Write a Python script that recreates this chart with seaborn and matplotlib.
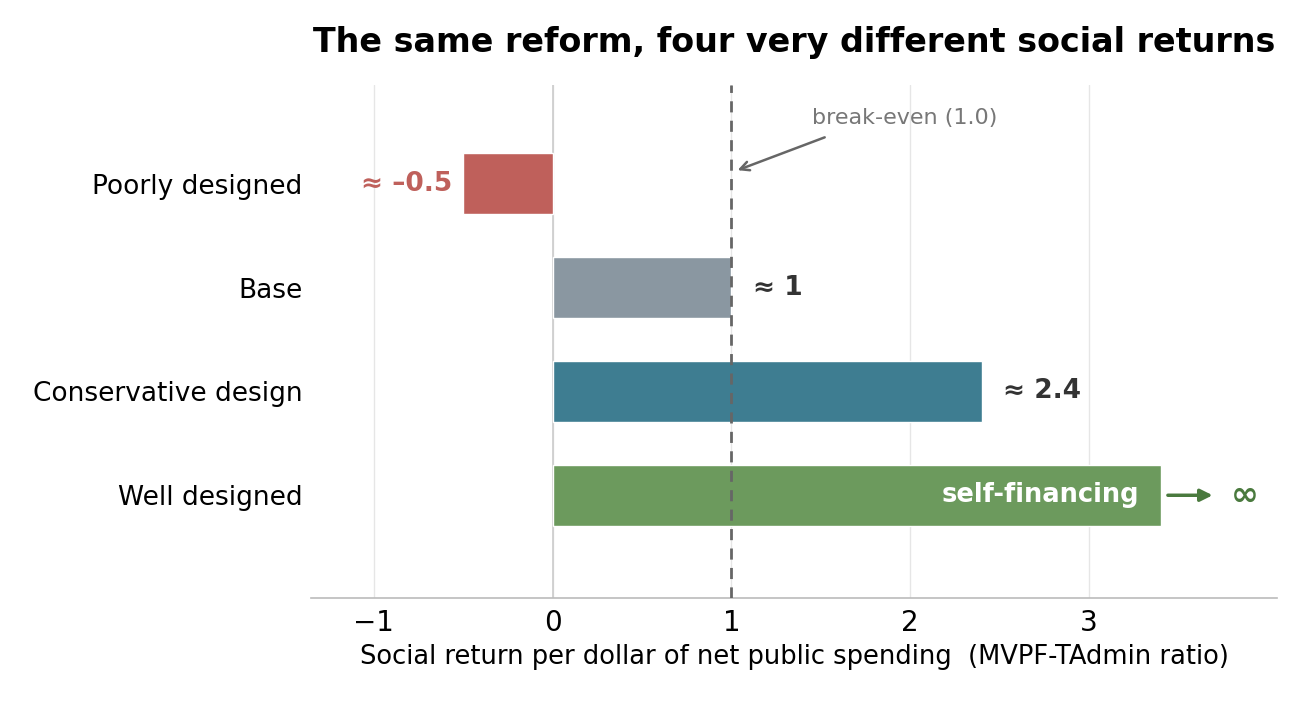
import matplotlib
matplotlib.use("Agg")
import matplotlib.pyplot as plt
import seaborn as sns
import pandas as pd

categories = ["Poorly designed", "Base", "Conservative design", "Well designed"]
values = [-0.5, 1.0, 2.4, 3.4]
value_labels = ["≈ –0.5", "≈ 1", "≈ 2.4", "self-financing"]
colors = ["#BF605B", "#8A97A1", "#3E7D91", "#6C9A5D"]
xticks = [-1, 0, 1, 2, 3]
xtick_labels = ["−1", "0", "1", "2", "3"]

sns.set_theme(style="white")
plt.rcParams['font.family'] = ['DejaVu Sans']
plt.rcParams['text.color'] = 'black'
plt.rcParams['xtick.color'] = 'black'
plt.rcParams['ytick.color'] = 'black'
plt.rcParams['axes.labelcolor'] = 'black'

fig = plt.figure(figsize=(13.08, 7.02), dpi=100)
ax = fig.add_axes([0.2378, 0.148, 0.7385, 0.731])

df = pd.DataFrame({"cat": categories, "val": values})
sns.barplot(data=df, y="cat", x="val", hue="cat", palette=colors, legend=False,
            orient="h", width=0.59, ax=ax, saturation=1)

ax.set_xlim(-1.35, 4.05)
ax.set_ylim(3.99, -0.95)
ax.set_xticks(xticks)
ax.set_xticklabels(xtick_labels, fontsize=20)
ax.tick_params(axis='y', labelsize=19, length=0, pad=6)
ax.tick_params(axis='x', length=0, pad=8)
ax.set_ylabel("")
ax.set_xlabel("Social return per dollar of net public spending  (MVPF-TAdmin ratio)", fontsize=18.5, labelpad=5)

for t in xticks:
    ax.axvline(t, color="#E6E6E6", lw=1, zorder=0)
ax.axvline(0, color="#CCCCCC", lw=1.2, zorder=0.5)
ax.axvline(1, color="#666666", lw=2, ls=(0, (4, 3)), zorder=3)

for s in ["top", "right", "left"]:
    ax.spines[s].set_visible(False)
ax.spines["bottom"].set_color("#BBBBBB")
ax.spines["bottom"].set_linewidth(1.2)

# value labels
ax.text(-0.56, 0, value_labels[0], ha="right", va="center", fontsize=19,
        fontweight="bold", color=colors[0])
ax.text(1.12, 1, value_labels[1], ha="left", va="center", fontsize=19,
        fontweight="bold", color="#333333")
ax.text(2.52, 2, value_labels[2], ha="left", va="center", fontsize=19,
        fontweight="bold", color="#333333")
ax.text(3.28, 3, value_labels[3], ha="right", va="center", fontsize=18.5,
        fontweight="bold", color="white")
ax.annotate("", xy=(3.69, 3), xytext=(3.44, 3),
            arrowprops=dict(arrowstyle="-|>", color="#4A7A3E", lw=2.5, mutation_scale=18,
                            shrinkA=0, shrinkB=0))
ax.text(3.79, 3, "∞", ha="left", va="center", fontsize=24, fontweight="bold", color="#4A7A3E")

ax.annotate("break-even (1.0)", xy=(1.02, -0.12), xytext=(1.45, -0.63),
            fontsize=16, color="#777777", ha="left", va="center",
            arrowprops=dict(arrowstyle="->", color="#666666", lw=1.8, mutation_scale=16,
                            shrinkA=12, relpos=(0.2, 0.0)))

ax.set_title("The same reform, four very different social returns", fontsize=24,
             fontweight="bold", pad=24)

fig.savefig("out.png", dpi=100)
